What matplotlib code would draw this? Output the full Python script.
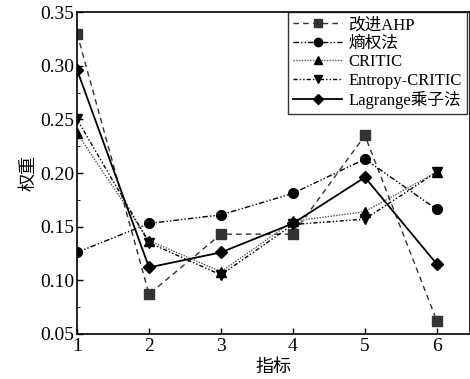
import matplotlib
matplotlib.use("Agg")
import matplotlib.pyplot as plt
from matplotlib.ticker import MultipleLocator

plt.rcParams['font.family'] = ['Liberation Serif', 'Noto Sans CJK SC']

# data
indicators = [1, 2, 3, 4, 5, 6]
ahp = [0.330, 0.087, 0.143, 0.143, 0.235, 0.062]
entropy = [0.126, 0.153, 0.161, 0.181, 0.213, 0.166]
critic = [0.237, 0.137, 0.108, 0.155, 0.164, 0.201]
entropy_critic = [0.250, 0.135, 0.105, 0.152, 0.157, 0.201]
lagrange = [0.296, 0.112, 0.126, 0.153, 0.196, 0.115]

labels = ['改进AHP', '熵权法', 'CRITIC', 'Entropy-CRITIC', 'Lagrange乘子法']

fig = plt.figure(figsize=(4.7, 3.79), dpi=100)
ax = fig.add_axes([0.164, 0.119, 0.836, 0.849])

ax.plot(indicators, ahp, linestyle=(0, (4, 3)), color='#333333', lw=1.0,
        marker='s', ms=6.5, mfc='#333333', mec='#333333', label=labels[0])
ax.plot(indicators, entropy, linestyle=(0, (4, 1.5, 1, 1.5, 1, 1.5)), color='black', lw=1.0,
        marker='o', ms=7, mfc='black', mec='black', label=labels[1])
ax.plot(indicators, critic, linestyle=(0, (1, 1)), color='#555555', lw=1.0,
        marker='^', ms=7, mfc='black', mec='black', label=labels[2])
ax.plot(indicators, entropy_critic, linestyle=(0, (3, 1.5, 1, 1.5, 1, 1.5)), color='black', lw=1.0,
        marker='v', ms=7, mfc='black', mec='black', label=labels[3])
ax.plot(indicators, lagrange, linestyle='-', color='black', lw=1.3,
        marker='D', ms=6, mfc='black', mec='black', label=labels[4])

ax.set_xlim(1, 6.46)
ax.set_ylim(0.05, 0.35)
ax.set_xticks(indicators)
ax.yaxis.set_major_locator(MultipleLocator(0.05))
ax.yaxis.set_minor_locator(MultipleLocator(0.025))
ax.set_yticklabels([f'{v:.2f}' for v in ax.get_yticks()])
ax.tick_params(direction='in', labelsize=14, length=4, width=1)
ax.tick_params(which='minor', direction='in', length=2.5)
ax.tick_params(axis='x', pad=3)
ax.tick_params(axis='y', pad=2)

for s in ax.spines.values():
    s.set_linewidth(1.2)

ax.set_xlabel('指标', fontsize=13, labelpad=3)
ax.set_ylabel('权重', fontsize=13, labelpad=2)

leg = ax.legend(loc='upper right', fontsize=12, frameon=True, fancybox=False,
                edgecolor='black', borderaxespad=0, handlelength=2.9,
                handletextpad=0.4, labelspacing=0.15, borderpad=0.3,
                markerscale=0.85, bbox_to_anchor=(0.992, 1.0))
leg.get_frame().set_linewidth(1.0)

fig.savefig('out.png', dpi=100)
